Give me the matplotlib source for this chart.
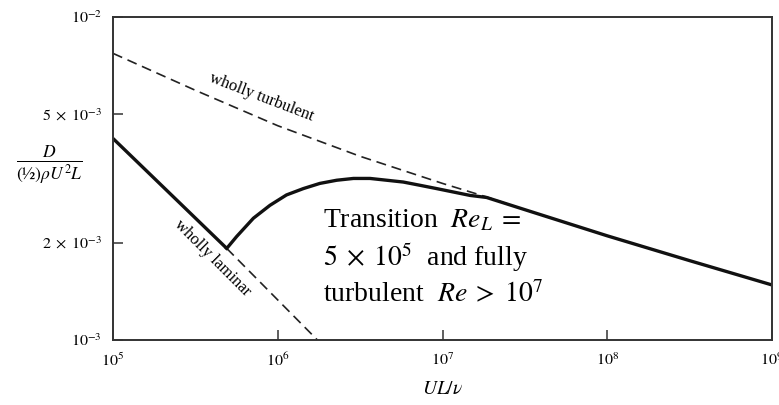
import matplotlib
matplotlib.use('Agg')
import matplotlib.pyplot as plt

# values (Re = UL/nu, drag coefficient)
turb_re = [1e5, 3.16e5, 1e6, 3.16e6, 1e7, 1.85e7, 3.16e7, 1e8, 3.16e8, 1e9]
turb_cd = [7.7e-3, 5.92e-3, 4.6e-3, 3.7e-3, 3.05e-3, 2.77e-3, 2.53e-3, 2.1e-3, 1.76e-3, 1.48e-3]

lam_re = [1e5, 4.9e5]
lam_cd = [4.2e-3, 1.92e-3]
lam_ext_re = [4.9e5, 1.74e6]
lam_ext_cd = [1.92e-3, 1.0e-3]

trans_re = [4.9e5, 5.63e5, 7.11e5, 8.97e5, 1.13e6, 1.43e6, 1.8e6, 2.28e6, 2.88e6,
            3.63e6, 4.58e6, 5.78e6, 7.29e6, 9.2e6, 1.16e7, 1.47e7, 1.85e7,
            3.16e7, 1e8, 3.16e8, 1e9]
trans_cd = [1.92e-3, 2.09e-3, 2.38e-3, 2.61e-3, 2.81e-3, 2.94e-3, 3.05e-3, 3.12e-3, 3.16e-3,
            3.16e-3, 3.12e-3, 3.08e-3, 3.01e-3, 2.94e-3, 2.87e-3, 2.80e-3, 2.76e-3,
            2.53e-3, 2.1e-3, 1.76e-3, 1.48e-3]

xticks = [1e5, 1e6, 1e7, 1e8, 1e9]
xlabels = [r'$10^5$', r'$10^6$', r'$10^7$', r'$10^8$', r'$10^9$']
yticks = [1e-3, 2e-3, 5e-3, 1e-2]
ylabels = [r'$10^{-3}$', r'$2\;\times\;10^{-3}$', r'$5\;\times\;10^{-3}$', r'$10^{-2}$']

plt.rcParams['font.family'] = ['Liberation Serif', 'DejaVu Serif']
plt.rcParams['mathtext.fontset'] = 'stix'

fig = plt.figure(figsize=(7.79, 4.05), dpi=100)
ax = fig.add_axes([0.1451, 0.1605, 0.8459, 0.7983])

dash = (0, (6, 3.5))
ax.plot(turb_re, turb_cd, color='#222222', lw=1.2, linestyle=dash)
ax.plot(lam_ext_re, lam_ext_cd, color='#222222', lw=1.2, linestyle=dash)
ax.plot(lam_re, lam_cd, color='#111111', lw=2.4, solid_capstyle='butt')
ax.plot(trans_re, trans_cd, color='#111111', lw=2.4, solid_joinstyle='round')

ax.set_xscale('log')
ax.set_yscale('log')
ax.set_xlim(1e5, 1e9)
ax.set_ylim(1e-3, 1e-2)
ax.set_xticks(xticks, xlabels)
ax.set_yticks(yticks, ylabels)
ax.minorticks_off()
ax.tick_params(direction='in', length=7.5, width=1.1, color='#333333', labelsize=11.5)
ax.tick_params(axis='y', pad=8)
ax.tick_params(axis='x', pad=9)
for s in ax.spines.values():
    s.set_color('#333333')
    s.set_linewidth(1.4)

ax.set_xlabel(r'$UL/\nu$', fontsize=14, labelpad=8)
fig.text(0.063, 0.593, r'$\frac{D}{(½)\rho U^2L}$', fontsize=18, ha='center', va='center')

ax.text(8.0e5, 5.65e-3, 'wholly turbulent', fontsize=12, rotation=-21,
        ha='center', va='center')
ax.text(4.0e5, 1.79e-3, 'wholly laminar', fontsize=12, rotation=-45,
        ha='center', va='center')

ax.text(0.319, 0.41, 'Transition  $Re_L\\;=$\n$5\\;\\times\\;10^5$  and fully\nturbulent  $Re\\;>\\;10^7$',
        transform=ax.transAxes, fontsize=20, ha='left', va='top', linespacing=1.3)

plt.savefig('out.png', dpi=100)
